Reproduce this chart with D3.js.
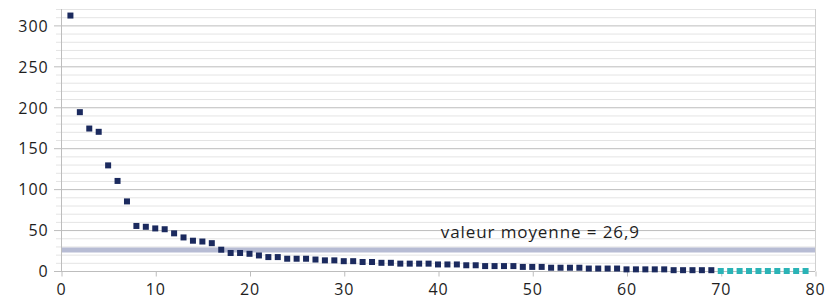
<!DOCTYPE html>
<html>
<head>
<meta charset="utf-8">
<script src="https://cdn.jsdelivr.net/npm/d3@7"></script>
<style>
  body { margin: 0; background: #fff; }
  svg text { font-family: "Open Sans", Lato, sans-serif; fill: #1e1e1e; letter-spacing: 0.9px; }
  .grid-minor line { stroke: #e4e4e4; }
  .grid-major line { stroke: #bdbdbd; }
  .axis path, .axis line { stroke: #bdbdbd; }
</style>
</head>
<body>
<svg width="825" height="299"></svg>
<script>
// rank of each depositor (1..79) and number of deposits
var ranks = d3.range(1, 80);
var counts = [312, 194, 174, 170, 129, 110, 85, 55, 54, 52,
              51, 46, 41, 37, 36, 34, 26, 22, 22, 21,
              19, 17, 17, 15, 15, 15, 14, 13, 13, 12,
              12, 11, 11, 10, 10, 9, 9, 9, 9, 8,
              8, 8, 7, 7, 6, 6, 6, 6, 5, 5,
              5, 4, 4, 4, 4, 3, 3, 3, 3, 2,
              2, 2, 2, 2, 1, 1, 1, 1, 1, 0,
              0, 0, 0, 0, 0, 0, 0, 0, 0];
var firstZeroRank = 70; // from here on the markers are teal
var meanValue = 26.9;
var meanLabel = "valeur moyenne = 26,9";
var xTicks = [0, 10, 20, 30, 40, 50, 60, 70, 80];
var yMajorTicks = [0, 50, 100, 150, 200, 250, 300];
var yMinorTicks = d3.range(0, 330, 10);

var svg = d3.select("svg"),
    width = +svg.attr("width"),
    height = +svg.attr("height"),
    margin = {top: 9, right: 10, bottom: 28, left: 61};

var x = d3.scaleLinear()
    .domain([0, 80])
    .range([margin.left, width - margin.right]);

var y = d3.scaleLinear()
    .domain([0, 320])
    .range([height - margin.bottom, margin.top]);

// light gridlines every 10
svg.append("g")
    .attr("class", "grid-minor")
    .selectAll("line")
    .data(yMinorTicks.filter(function(d) { return d % 50 != 0; }))
    .enter().append("line")
    .attr("x1", x(0) - 5).attr("x2", x(80))
    .attr("y1", function(d) { return y(d) + 0.5; })
    .attr("y2", function(d) { return y(d) + 0.5; });

// darker gridlines every 50
svg.append("g")
    .attr("class", "grid-major")
    .selectAll("line")
    .data(yMajorTicks)
    .enter().append("line")
    .attr("x1", x(0) - 7).attr("x2", x(80))
    .attr("y1", function(d) { return y(d) + 0.5; })
    .attr("y2", function(d) { return y(d) + 0.5; });

// mean band
svg.append("line")
    .attr("x1", x(0)).attr("x2", x(80))
    .attr("y1", y(meanValue) + 1).attr("y2", y(meanValue) + 1)
    .attr("stroke", "#b7bcd4")
    .attr("stroke-width", 5);

// y axis
var yAxis = svg.append("g")
    .attr("class", "axis")
    .attr("transform", "translate(" + (x(0) + 0.5) + ",0)")
    .call(d3.axisLeft(y).tickValues(yMajorTicks).tickSize(0).tickPadding(13));
yAxis.select(".domain").attr("d", "M0," + y(320) + "V" + y(0));
yAxis.selectAll("text").attr("font-size", 16).attr("dy", "0.36em");

// x axis
var xAxis = svg.append("g")
    .attr("class", "axis")
    .attr("transform", "translate(0," + (y(0) + 0.5) + ")")
    .call(d3.axisBottom(x).tickValues(xTicks).tickSize(5).tickPadding(6));
xAxis.select(".domain").remove();
xAxis.selectAll(".tick line").attr("transform", "translate(0.5,0)");
xAxis.selectAll("text").attr("font-size", 16).attr("dy", "0.8em");

// right border
svg.append("line")
    .attr("x1", x(80) + 0.5).attr("x2", x(80) + 0.5)
    .attr("y1", y(320)).attr("y2", y(0))
    .attr("stroke", "#d0d0d0");

// mean label
svg.append("text")
    .attr("x", x(40.3))
    .attr("y", y(40))
    .attr("font-size", 17)
    .text(meanLabel);

// markers
var size = 6;
svg.append("g")
    .selectAll("rect")
    .data(ranks)
    .enter().append("rect")
    .attr("x", function(d) { return x(d) - size / 2; })
    .attr("y", function(d, i) { return y(counts[i]) - size / 2; })
    .attr("width", size)
    .attr("height", size)
    .attr("fill", function(d) { return d >= firstZeroRank ? "#2ab3b6" : "#1b2a5e"; });
</script>
</body>
</html>
